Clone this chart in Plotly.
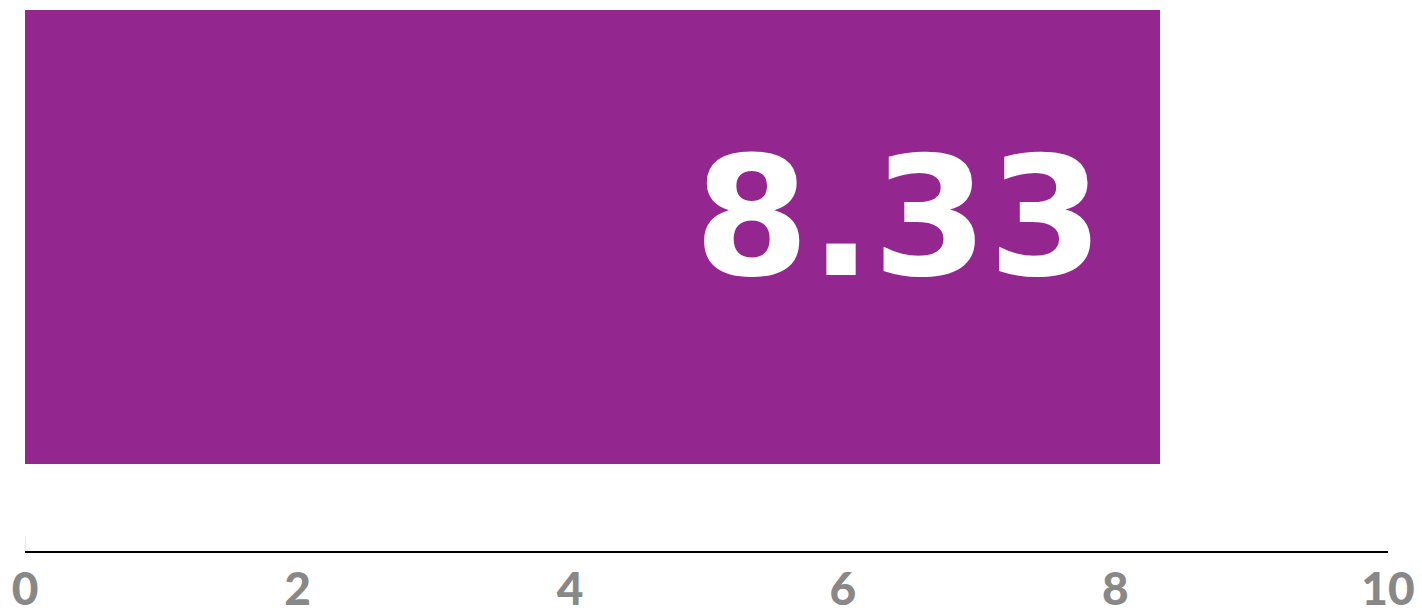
import plotly.graph_objects as go

categories = ["score"]
values = [8.33]
tick_vals = [0, 2, 4, 6, 8, 10]
tick_text = ["0", "2", "4", "6", "8", "10"]

bar_color = "#93278f"

fig = go.Figure()
fig.add_trace(go.Bar(
    x=values, y=[0], orientation="h", width=1,
    marker=dict(color=bar_color, line=dict(width=0)),
    hoverinfo="skip", showlegend=False,
))

fig.add_annotation(
    x=values[0], y=0, xref="x", yref="y",
    text=f"{values[0]:.2f}", showarrow=False,
    xanchor="right", yanchor="middle", xshift=-54, yshift=20,
    font=dict(family="DejaVu Sans", size=166, color="white", weight="bold"),
)

fig.add_shape(type="line", xref="x", yref="paper", x0=0, x1=0, y0=0, y1=14/541,
              line=dict(color="#cccccc", width=1))

fig.update_layout(
    width=1422, height=610,
    margin=dict(l=25, r=34, t=10, b=59, autoexpand=False),
    paper_bgcolor="white", plot_bgcolor="white",
    bargap=0,
    xaxis=dict(range=[0, 10], tickvals=tick_vals, ticktext=tick_text,
               showgrid=False, zeroline=False, showline=True,
               linecolor="black", linewidth=1.5, ticks="", automargin=False,
               tickfont=dict(family="Lato", size=46, color="#888888", weight=900),
               ticklabelstandoff=-3, fixedrange=True),
    yaxis=dict(range=[-0.5 - 87/454, 0.5], showticklabels=False, showgrid=False,
               zeroline=False, showline=False, fixedrange=True, automargin=False),
)

fig.write_html("out.html", config={"displayModeBar": False},
               post_script="document.body.style.margin='0';document.body.style.overflow='hidden';")
